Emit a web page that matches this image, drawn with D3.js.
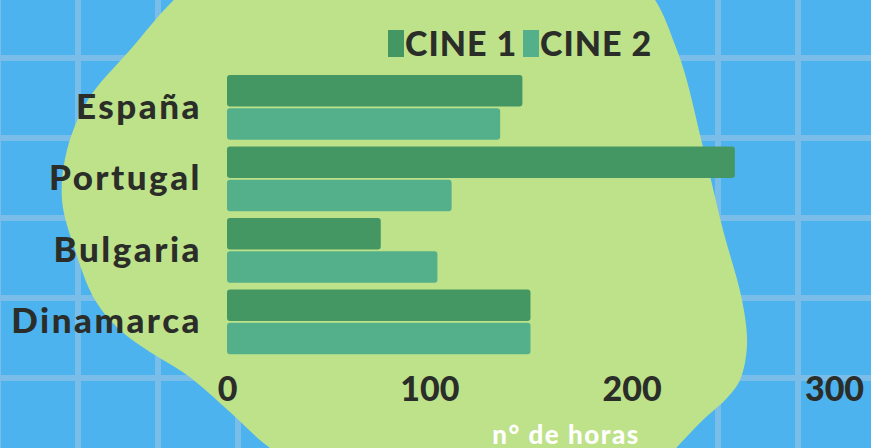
<!DOCTYPE html>
<html lang="es">
<head>
<meta charset="utf-8">
<title>Horas de cine</title>
<script src="https://d3js.org/d3.v7.min.js"></script>
<style>
  body { margin: 0; background: #4db3ef; overflow: hidden; }
  svg { display: block; }
  svg text { font-family: Lato, "Open Sans", sans-serif; font-weight: 900; }
  .axis text { fill: #2b2d29; }
</style>
</head>
<body>
<script>
// datos
var paises = ["España", "Portugal", "Bulgaria", "Dinamarca"];
var cine1 = [146, 251, 76, 150];
var cine2 = [135, 111, 104, 150];
var series = ["CINE 1", "CINE 2"];
var colores = ["#449763", "#53b08a"];
var tickValues = [0, 100, 200, 300];
var tituloX = "n° de horas";

var w = 871, h = 448;

var svg = d3.select("body").append("svg")
    .attr("width", w)
    .attr("height", h);

// fondo con cuadricula
svg.append("rect").attr("width", w).attr("height", h).attr("fill", "#4db3ef");
var grid = svg.append("g").attr("stroke", "#79bde8").attr("stroke-width", 6);
d3.range(-2, w + 10, 80).forEach(function(x) {
    grid.append("line").attr("x1", x).attr("x2", x).attr("y1", 0).attr("y2", h);
});
d3.range(-22, h + 10, 80).forEach(function(y) {
    grid.append("line").attr("y1", y).attr("y2", y).attr("x1", 0).attr("x2", w);
});

// mancha verde
var mancha = [[640,-20],[677,50],[703,147],[723,230],[742,300],[747,345],[740,380],[727,398],
              [703,420],[678,446],[630,500],[400,530],[270,448],[230,412],[187,375],[150,352],
              [120,330],[95,300],[75,250],[62,200],[67,150],[88,100],[130,50],[190,-15],[420,-170]];
svg.append("path")
    .attr("d", d3.line().curve(d3.curveCatmullRomClosed.alpha(0.5))(mancha))
    .attr("fill", "#bee28a");

// escalas
var x = d3.scaleLinear().domain([0, 300]).range([227, 834]);
var y = d3.scaleBand().domain(paises).range([71.4, 357.8])
    .paddingInner(0.095).paddingOuter(0.05);
var ySub = d3.scaleBand().domain([0, 1]).range([0, y.bandwidth()]).paddingInner(0.05);

// barras
var grupos = svg.selectAll("g.pais")
    .data(paises)
    .enter().append("g")
    .attr("class", "pais")
    .attr("transform", function(d) { return "translate(0," + y(d) + ")"; });

grupos.selectAll("rect")
    .data(function(d, i) { return [cine1[i], cine2[i]]; })
    .enter().append("rect")
    .attr("x", x(0))
    .attr("y", function(d, j) { return ySub(j); })
    .attr("width", function(d) { return x(d) - x(0); })
    .attr("height", ySub.bandwidth())
    .attr("rx", 3)
    .attr("fill", function(d, j) { return colores[j]; });

// eje y
var yAxis = svg.append("g")
    .attr("class", "axis")
    .attr("transform", "translate(202,0)")
    .call(d3.axisLeft(y).tickSize(0).tickPadding(0));
yAxis.select(".domain").remove();
yAxis.selectAll("text")
    .attr("font-size", 35)
    .attr("letter-spacing", 2.5)
    .attr("dy", "0.33em");

// eje x
var xAxis = svg.append("g")
    .attr("class", "axis")
    .attr("transform", "translate(0,401)")
    .call(d3.axisBottom(x).tickValues(tickValues).tickSize(0).tickPadding(0));
xAxis.select(".domain").remove();
xAxis.selectAll("text")
    .attr("font-size", 34)
    .attr("y", 0).attr("dy", 0);

// titulo eje x
svg.append("text")
    .attr("x", 566)
    .attr("y", 444)
    .attr("text-anchor", "middle")
    .attr("font-size", 26)
    .attr("letter-spacing", 1.5)
    .attr("fill", "#ffffff")
    .text(tituloX);

// leyenda
var leyX = [388, 523];
var leyenda = svg.selectAll("g.leyenda")
    .data(series)
    .enter().append("g")
    .attr("class", "leyenda")
    .attr("transform", function(d, i) { return "translate(" + leyX[i] + ",30)"; });
leyenda.append("rect")
    .attr("width", 16).attr("height", 27)
    .attr("fill", function(d, i) { return colores[i]; });
leyenda.append("text")
    .attr("x", 17).attr("y", 26)
    .attr("font-size", 34)
    .attr("letter-spacing", 1)
    .attr("fill", "#2b2d29")
    .text(function(d) { return d; });
</script>
</body>
</html>
